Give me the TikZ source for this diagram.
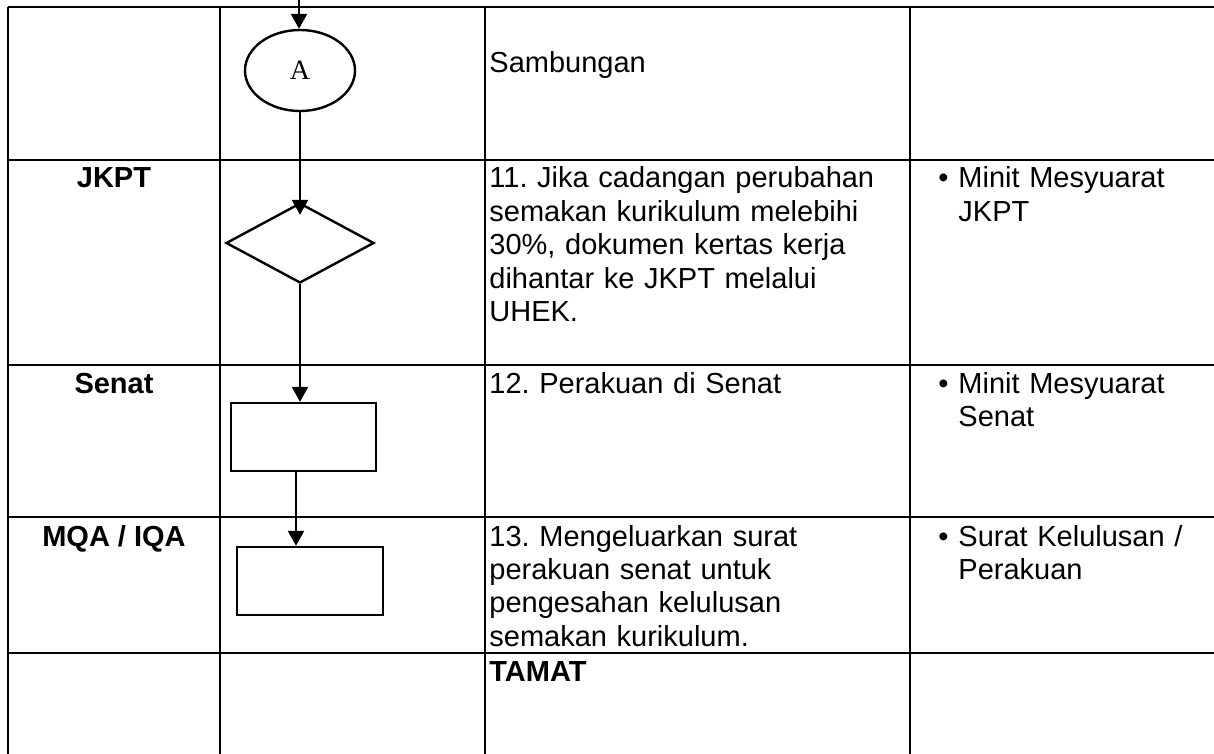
\documentclass[tikz,border=0pt]{standalone}
\usepackage{fontspec}
\setmainfont{Liberation Sans}
\newfontfamily\serifA{Liberation Serif}
\usetikzlibrary{shapes.geometric,arrows.meta}
\frenchspacing
\begin{document}
\begin{tikzpicture}[x=0.5pt,y=-0.5pt,
  grid/.style={line width=1pt},
  flow/.style={draw, line width=1.2pt, inner sep=0pt},
  arr/.style={line width=1.2pt,-{Triangle[length=7.5pt,width=8pt]}},
  txtfont/.style={font=\frenchspacing\fontsize{14.5}{16.7}\selectfont},
  txt/.style={inner sep=0pt, anchor=base west, txtfont, text width=210pt, align=left},
  lab/.style={inner sep=0pt, anchor=base, font=\fontsize{14.5}{16.7}\selectfont\bfseries}]
\useasboundingbox (0,0) rectangle (1214,754);
% table grid
\draw[grid] (8,7) -- (1214,7);
\foreach \y in {160,365,517,653} \draw[grid] (8,\y) -- (1214,\y);
\foreach \x in {8,220,485,910} \draw[grid] (\x,7) -- (\x,754);
% flowchart
\coordinate (in) at (299,0);
\node[ellipse, flow, minimum width=55pt, minimum height=40.5pt, font=\serifA\fontsize{14}{16}\selectfont] (A) at (300,70.5) {A};
\node[diamond, flow, aspect=1.85, minimum width=74pt, minimum height=40pt] (D) at (300,243) {};
\node[rectangle, flow, minimum width=72.5pt, minimum height=34pt] (B1) at (303.5,437) {};
\node[rectangle, flow, minimum width=73pt, minimum height=34pt] (B2) at (310,581) {};
\draw[arr] (in) -- (in |- A.north);
\draw[arr, shorten >=-6.5pt] (A.south) -- (D.north);
\draw[arr] (D.south) -- (D.south |- B1.north);
\draw[arr] ([xshift=-3.75pt]B1.south) -- ([xshift=-3.75pt]B1.south |- B2.north);
% column 1 labels
\node[lab] (l1) at (114,188) {JKPT};
\node[lab] (l2) at (114,393) {Senat};
\node[lab] (l3) at (114,546) {MQA / IQA};
% column 3 texts
\node[txt] (t0) at (489,73) {Sambungan};
\node[txt] (t11) at (489,188) {11. Jika cadangan perubahan\\semakan kurikulum melebihi\\30\%, dokumen kertas kerja\\dihantar ke JKPT melalui\\UHEK.};
\node[txt] (t12) at (489,393) {12. Perakuan di Senat};
\node[txt] (t13) at (489,546) {13. Mengeluarkan surat\\perakuan senat untuk\\pengesahan kelulusan\\semakan kurikulum.};
\node[txt, font=\fontsize{14.5}{16.7}\selectfont\bfseries] (t14) at (489,681) {TAMAT};
% column 4 texts
\node[txt, text width=10pt] (b1) at (938,188) {•};
\node[txt] (r1) at (958,188) {Minit Mesyuarat\\JKPT};
\node[txt, text width=10pt] (b2) at (938,393) {•};
\node[txt] (r2) at (958,393) {Minit Mesyuarat\\Senat};
\node[txt, text width=10pt] (b3) at (938,546) {•};
\node[txt] (r3) at (958,546) {Surat Kelulusan /\\Perakuan};
\end{tikzpicture}
\end{document}
